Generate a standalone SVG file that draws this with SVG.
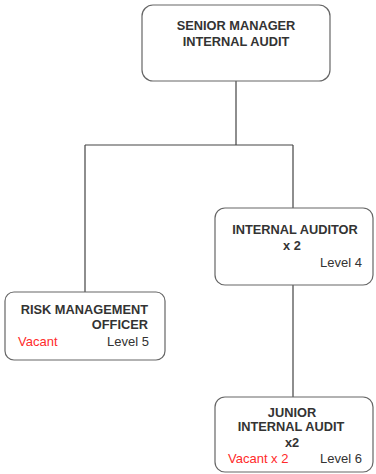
<svg xmlns="http://www.w3.org/2000/svg" width="376" height="474" viewBox="0 0 376 474">
  <style>
    .box { fill: #ffffff; stroke: #666666; stroke-width: 1.2; }
    .wire { fill: none; stroke: #444444; stroke-width: 1.2; }
    .title { font-family: "Liberation Sans", Arial, sans-serif; font-size: 12.8px; font-weight: bold; fill: #333333; }
    .note { font-family: "Liberation Sans", Arial, sans-serif; font-size: 13px; fill: #333333; }
    .vacant { fill: #ff2a2a; }
  </style>
  <rect width="376" height="474" fill="#ffffff"/>

  <g id="connectors">
    <path class="wire" d="M236 81 V145 M85 145 H293 M85 145 V292 M293 145 V208 M293 285 V397"/>
  </g>

  <g id="senior-manager">
    <rect class="box" x="142" y="5" width="188" height="76" rx="11"/>
    <text class="title" x="236" y="29.5" text-anchor="middle">SENIOR MANAGER</text>
    <text class="title" x="236" y="46" text-anchor="middle">INTERNAL AUDIT</text>
  </g>

  <g id="risk-officer">
    <rect class="box" x="5" y="292" width="160" height="68" rx="9"/>
    <text class="title" x="148" y="313.5" text-anchor="end">RISK MANAGEMENT</text>
    <text class="title" x="148" y="329" text-anchor="end">OFFICER</text>
    <text class="note vacant" x="18" y="345.5">Vacant</text>
    <text class="note" x="149" y="345.5" text-anchor="end">Level 5</text>
  </g>

  <g id="internal-auditor">
    <rect class="box" x="215" y="208" width="158" height="77" rx="10"/>
    <text class="title" x="295" y="233.5" text-anchor="middle">INTERNAL AUDITOR</text>
    <text class="title" x="292" y="250" text-anchor="middle">x 2</text>
    <text class="note" x="362" y="267" text-anchor="end">Level 4</text>
  </g>

  <g id="junior-auditor">
    <rect class="box" x="215" y="397" width="158" height="75" rx="10"/>
    <text class="title" x="292" y="416.5" text-anchor="middle">JUNIOR</text>
    <text class="title" x="291" y="431" text-anchor="middle">INTERNAL AUDIT</text>
    <text class="title" x="292" y="447" text-anchor="middle">x2</text>
    <text class="note vacant" x="228" y="463">Vacant x 2</text>
    <text class="note" x="362" y="463" text-anchor="end">Level 6</text>
  </g>
</svg>
